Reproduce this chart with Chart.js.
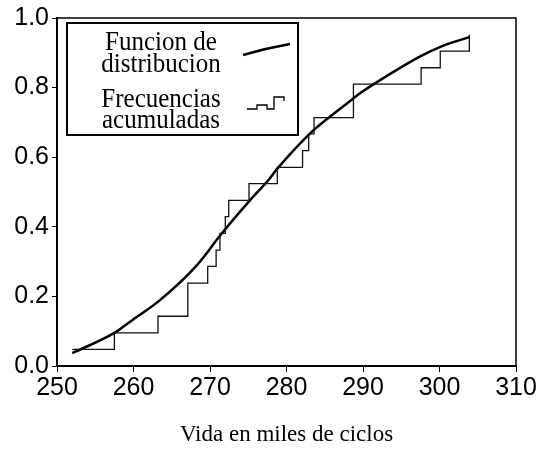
<!DOCTYPE html>
<html>
<head>
<meta charset="utf-8">
<script src="https://cdn.jsdelivr.net/npm/chart.js@4"></script>
<style>
  html, body { margin: 0; padding: 0; background: #fff; }
  #wrap { width: 541px; height: 452px; }
</style>
</head>
<body>
<div id="wrap"><canvas id="grafico"></canvas></div>
<script>
// Frecuencias acumuladas (escalera): vida observada y frecuencia acumulada
const vidaObs  = [252.0, 257.5, 263.2, 267.1, 269.7, 270.8, 271.3, 272.0, 272.45, 275.1,
                  278.8, 282.1, 282.9, 283.6, 288.75, 297.6, 300.1, 303.9];
const frecAcum = [0.048, 0.095, 0.143, 0.238, 0.286, 0.333, 0.381, 0.429, 0.476, 0.524,
                  0.571, 0.619, 0.667, 0.714, 0.810, 0.857, 0.905, 0.952];

// Funcion de distribucion ajustada
const vidaCurva = [252.0, 257.5, 259.6, 263.5, 268.3, 271.4, 275.1, 277.7, 278.8, 283.4,
                   285.3, 288.4, 289.7, 291.2, 297.6, 300.2, 303.9];
const distCurva = [0.037, 0.095, 0.128, 0.19, 0.29, 0.377, 0.473, 0.536, 0.567, 0.675,
                   0.71, 0.763, 0.785, 0.807, 0.891, 0.918, 0.945];

const ticksX = [250, 260, 270, 280, 290, 300, 310];
const ticksY = [0, 0.2, 0.4, 0.6, 0.8, 1.0];
const tituloX = 'Vida en miles de ciclos';
const leyenda = [['Funcion de', 'distribucion'], ['Frecuencias', 'acumuladas']];

const fuenteEjes = '"Liberation Sans", Arial, sans-serif';
const fuenteTexto = '"Liberation Serif", "Times New Roman", serif';

// texto algo estirado en vertical, como en la figura original
function textoAlto(ctx, txt, x, y, k) {
    ctx.save();
    ctx.translate(x, y);
    ctx.scale(1, k);
    ctx.fillText(txt, 0, 0);
    ctx.restore();
}

// marco superior/derecho y leyenda dibujada a mano
const marcoYLeyenda = {
    id: 'marcoYLeyenda',
    afterDraw(chart) {
        const { ctx, chartArea: a } = chart;
        ctx.save();
        ctx.strokeStyle = '#000';
        ctx.lineWidth = 1.5;
        ctx.beginPath();
        ctx.moveTo(a.left, a.top);
        ctx.lineTo(a.right, a.top);
        ctx.lineTo(a.right, a.bottom);
        ctx.stroke();

        const x0 = a.left + 10, y0 = a.top + 5;
        ctx.lineWidth = 2;
        ctx.strokeRect(x0, y0, 231, 112);

        ctx.fillStyle = '#000';
        ctx.font = '25px ' + fuenteTexto;
        ctx.textAlign = 'center';
        ctx.textBaseline = 'alphabetic';
        const cx = x0 + 94;
        textoAlto(ctx, leyenda[0][0], cx, y0 + 27, 1.06);
        textoAlto(ctx, leyenda[0][1], cx, y0 + 49, 1.06);
        textoAlto(ctx, leyenda[1][0], cx, y0 + 84, 1.06);
        textoAlto(ctx, leyenda[1][1], cx, y0 + 105, 1.06);

        // muestra de la curva
        ctx.lineWidth = 2.5;
        ctx.beginPath();
        ctx.moveTo(x0 + 176, y0 + 32);
        ctx.quadraticCurveTo(x0 + 200, y0 + 25, x0 + 223, y0 + 21);
        ctx.stroke();

        // muestra de la escalera
        ctx.lineWidth = 1.3;
        ctx.beginPath();
        ctx.moveTo(x0 + 180, y0 + 86);
        ctx.lineTo(x0 + 190, y0 + 86);
        ctx.lineTo(x0 + 190, y0 + 82);
        ctx.lineTo(x0 + 200, y0 + 82);
        ctx.lineTo(x0 + 200, y0 + 86);
        ctx.lineTo(x0 + 207, y0 + 86);
        ctx.lineTo(x0 + 207, y0 + 74);
        ctx.lineTo(x0 + 217, y0 + 74);
        ctx.lineTo(x0 + 217, y0 + 78);
        ctx.stroke();
        ctx.restore();
    }
};

new Chart(document.getElementById('grafico'), {
    type: 'scatter',
    data: {
        datasets: [{
            label: 'Frecuencias acumuladas',
            data: vidaObs.map((v, i) => ({ x: v, y: frecAcum[i] })),
            showLine: true,
            stepped: 'before',
            borderColor: '#111',
            borderWidth: 1.3,
            pointRadius: 0,
            fill: false
        }, {
            label: 'Funcion de distribucion',
            data: vidaCurva.map((v, i) => ({ x: v, y: distCurva[i] })),
            showLine: true,
            borderColor: '#000',
            borderWidth: 2.5,
            cubicInterpolationMode: 'monotone',
            pointRadius: 0,
            fill: false
        }]
    },
    options: {
        responsive: true,
        maintainAspectRatio: false,
        animation: false,
        layout: { padding: { top: 17, right: 25, left: 0, bottom: 0 } },
        plugins: {
            legend: { display: false },
            tooltip: { enabled: false }
        },
        scales: {
            x: {
                type: 'linear',
                min: 250,
                max: 310,
                afterBuildTicks: s => { s.ticks = ticksX.map(v => ({ value: v })); },
                afterFit: s => { s.height = 86; },
                ticks: {
                    color: '#000',
                    padding: 1,
                    font: { family: fuenteEjes, size: 25 },
                    callback: v => String(v)
                },
                grid: { drawOnChartArea: false, drawTicks: true, tickLength: 6, color: '#000', lineWidth: 1 },
                border: { display: true, color: '#000', width: 2 },
                title: {
                    display: true,
                    text: tituloX,
                    color: '#000',
                    font: { family: fuenteTexto, size: 23 },
                    padding: { top: 0, bottom: 3 }
                }
            },
            y: {
                min: 0,
                max: 1,
                afterBuildTicks: s => { s.ticks = ticksY.map(v => ({ value: v })); },
                afterFit: s => { s.width = 57; },
                ticks: {
                    color: '#000',
                    padding: 3,
                    font: { family: fuenteEjes, size: 25 },
                    callback: v => v.toFixed(1)
                },
                grid: { drawOnChartArea: false, drawTicks: true, tickLength: 5, color: '#000', lineWidth: 1 },
                border: { display: true, color: '#000', width: 2 }
            }
        }
    },
    plugins: [marcoYLeyenda]
});
</script>
</body>
</html>
